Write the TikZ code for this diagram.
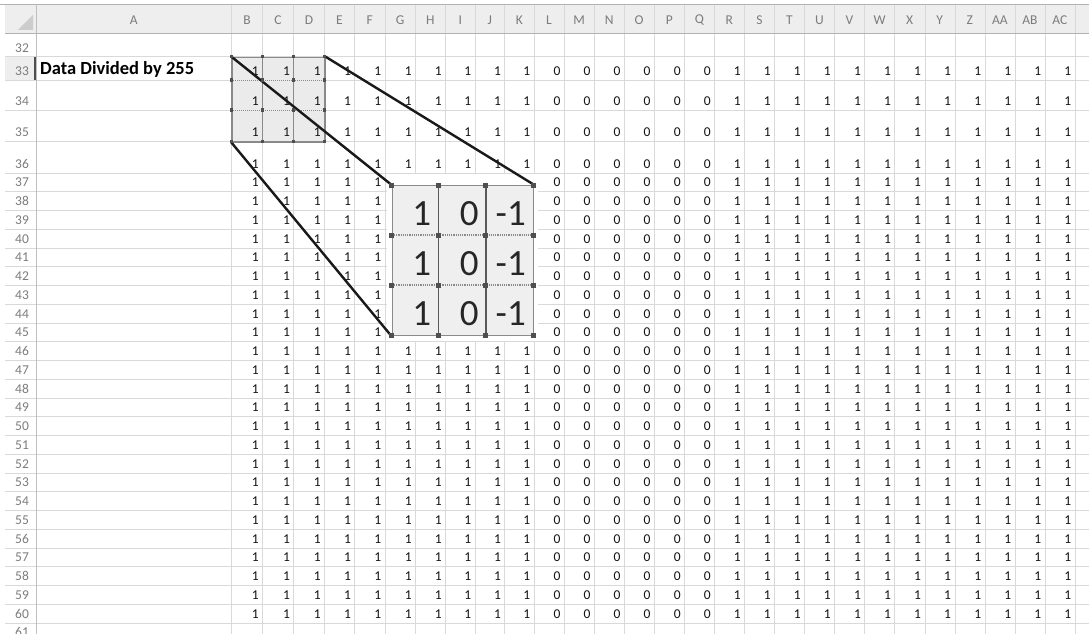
\documentclass[tikz,border=0pt]{standalone}
\usepackage{fontspec}
\setmainfont{Carlito}
\definecolor{gridgray}{HTML}{D9D9D9}
\definecolor{headgray}{HTML}{EEEEEE}
\definecolor{labgray}{HTML}{7C7C7C}
\definecolor{boxgray}{HTML}{8A8A8A}
\definecolor{handlegray}{HTML}{4F4F4F}
\definecolor{selfill}{HTML}{EBEBEB}
\definecolor{kerfill}{HTML}{EFEFEF}
\tikzset{
  num/.style={anchor=base east,inner sep=0pt,font=\fontsize{13.5}{14}\selectfont,text=black!92},
  bignum/.style={anchor=base east,inner sep=0pt,font=\fontsize{37}{37}\selectfont,text=black!85},
  head/.style={inner sep=0pt,font=\fontsize{13.5}{14}\selectfont,text=labgray},
  handle/.style={fill=handlegray,minimum size=4pt,inner sep=0pt},
  link/.style={line width=2.4pt,black!90,line cap=round},
}
% left edges of the columns B..AC, and right edge of AC
\def\colx{{231.4,262.5,293.6,324.3,354.6,385.0,415.4,445.4,475.0,504.6,534.0,564.1,594.1,624.2,654.2,684.3,714.3,744.4,774.4,804.5,834.5,864.6,894.6,924.7,954.7,984.8,1014.8,1044.9,1074.9}}
\def\kerx{{391.7,438.3,485.7,533}}

\begin{document}
\begin{tikzpicture}[x=1pt,y=-1pt]
\useasboundingbox (0,0) rectangle (1089,634);
\fill[white] (0,0) rectangle (1089,634);

% headings
\fill[headgray] (5,5) rectangle (1089,33);
\fill[black!20] (18,30) -- (33,30) -- (33,15) -- cycle;
\fill[headgray] (5,56.7) rectangle (36,80);

% grid
\foreach \yb in {56.7,80,110,141.3,172.7}
  \draw[gridgray] (5,\yb) -- (1089,\yb);
\foreach \k in {1,...,24}
  \draw[gridgray] (5,172.7+18.75*\k) -- (1089,172.7+18.75*\k);
\foreach \i in {0,...,28}{
  \pgfmathsetmacro\xl{\colx[\i]}
  \draw[gridgray] (\xl,5) -- (\xl,634);
}
\draw[black!25] (36,5) -- (36,634);
\draw[black!30] (5,33) -- (1089,33);
\draw[black!30,line width=1pt] (0,5) -- (1089,5);
\draw[handlegray,line width=1.6pt] (35,57.5) -- (35,79.5);

\node[head] at (133.7,20) {A};
\foreach \c [count=\ii] in {B,C,D,E,F,G,H,I,J,K,L,M,N,O,P,Q,R,S,T,U,V,W,X,Y,Z,AA,AB,AC}{
  \pgfmathtruncatemacro\i{\ii-1}
  \pgfmathsetmacro\xa{\colx[\i]}
  \pgfmathsetmacro\xb{\colx[\ii]}
  \node[head] at ({(\xa+\xb)/2},20) {\c};
}

\foreach \r/\yb in {32/56.7,33/80,34/110,35/141.3,36/172.7}
  \node[head,anchor=base] at (22,\yb-4.5) {\r};
\foreach \r in {37,...,61}{
  \pgfmathsetmacro\yb{172.7+18.75*(\r-36)}
  \node[head,anchor=base] at (22,\yb-4.5) {\r};
}

\node[anchor=base west,inner sep=0pt,font=\bfseries\fontsize{18.5}{19}\selectfont] (title) at (40,74.5) {Data Divided by 255};

% cells
\fill[selfill] (231.4,56.7) rectangle (324.3,141.3);
\foreach \r in {33,...,60}{
  \ifnum\r<37
    \pgfmathsetmacro\yb{{80,110,141.3,172.7}[\r-33]}
  \else
    \pgfmathsetmacro\yb{172.7+18.75*(\r-36)}
  \fi
  \foreach \i in {0,...,27}{
    \pgfmathtruncatemacro\ii{\i+1}
    \pgfmathsetmacro\xr{\colx[\ii]}
    \pgfmathtruncatemacro\v{(\i<10 || \i>15) ? 1 : 0}
    \node[num] at (\xr-3.5,\yb-4.5) {\v};
  }
}

% selection
\node[draw=boxgray,line width=1.2pt,minimum width=92.9pt,minimum height=84.6pt,anchor=north west,inner sep=0pt] (sel) at (231.4,56.7) {};
\draw[boxgray,line width=1.2pt] (262.5,56.7) -- (262.5,141.3) (293.6,56.7) -- (293.6,141.3);
\draw[boxgray,line width=1pt,densely dotted] (231.4,80) -- (324.3,80) (231.4,110) -- (324.3,110);

% filter
\fill[white] (387,174) rectangle (538,341);
\node[draw=boxgray,fill=kerfill,line width=1.4pt,minimum width=141.3pt,minimum height=150pt,anchor=north west,inner sep=0pt] (kern) at (391.7,185) {};
\draw[black!65,line width=1.6pt] (438.3,185) -- (438.3,335) (485.7,185) -- (485.7,335);
\draw[boxgray,line width=1.2pt,densely dotted] (391.7,235) -- (533,235) (391.7,285) -- (533,285);
\foreach \v [count=\j] in {1,0,-1}{
  \pgfmathsetmacro\xr{\kerx[\j]}
  \foreach \yb in {235,285,335}
    \node[bignum] at (\xr-7,\yb-10) {\v};
}

% links
\draw[link] (sel.north west) -- (kern.north west);
\draw[link] (sel.north east) -- (kern.north east);
\draw[link] (sel.south west) -- (kern.south west);

% handles
\foreach \hx in {231.4,262.5,293.6,324.3}
  \foreach \hy in {56.7,80,110,141.3}
    \node[handle,minimum size=3.5pt] at (\hx,\hy) {};
\foreach \hx in {391.7,438.3,485.7,533}
  \foreach \hy in {185,235,285,335}
    \node[handle,minimum size=5pt] at (\hx,\hy) {};
\end{tikzpicture}
\end{document}
